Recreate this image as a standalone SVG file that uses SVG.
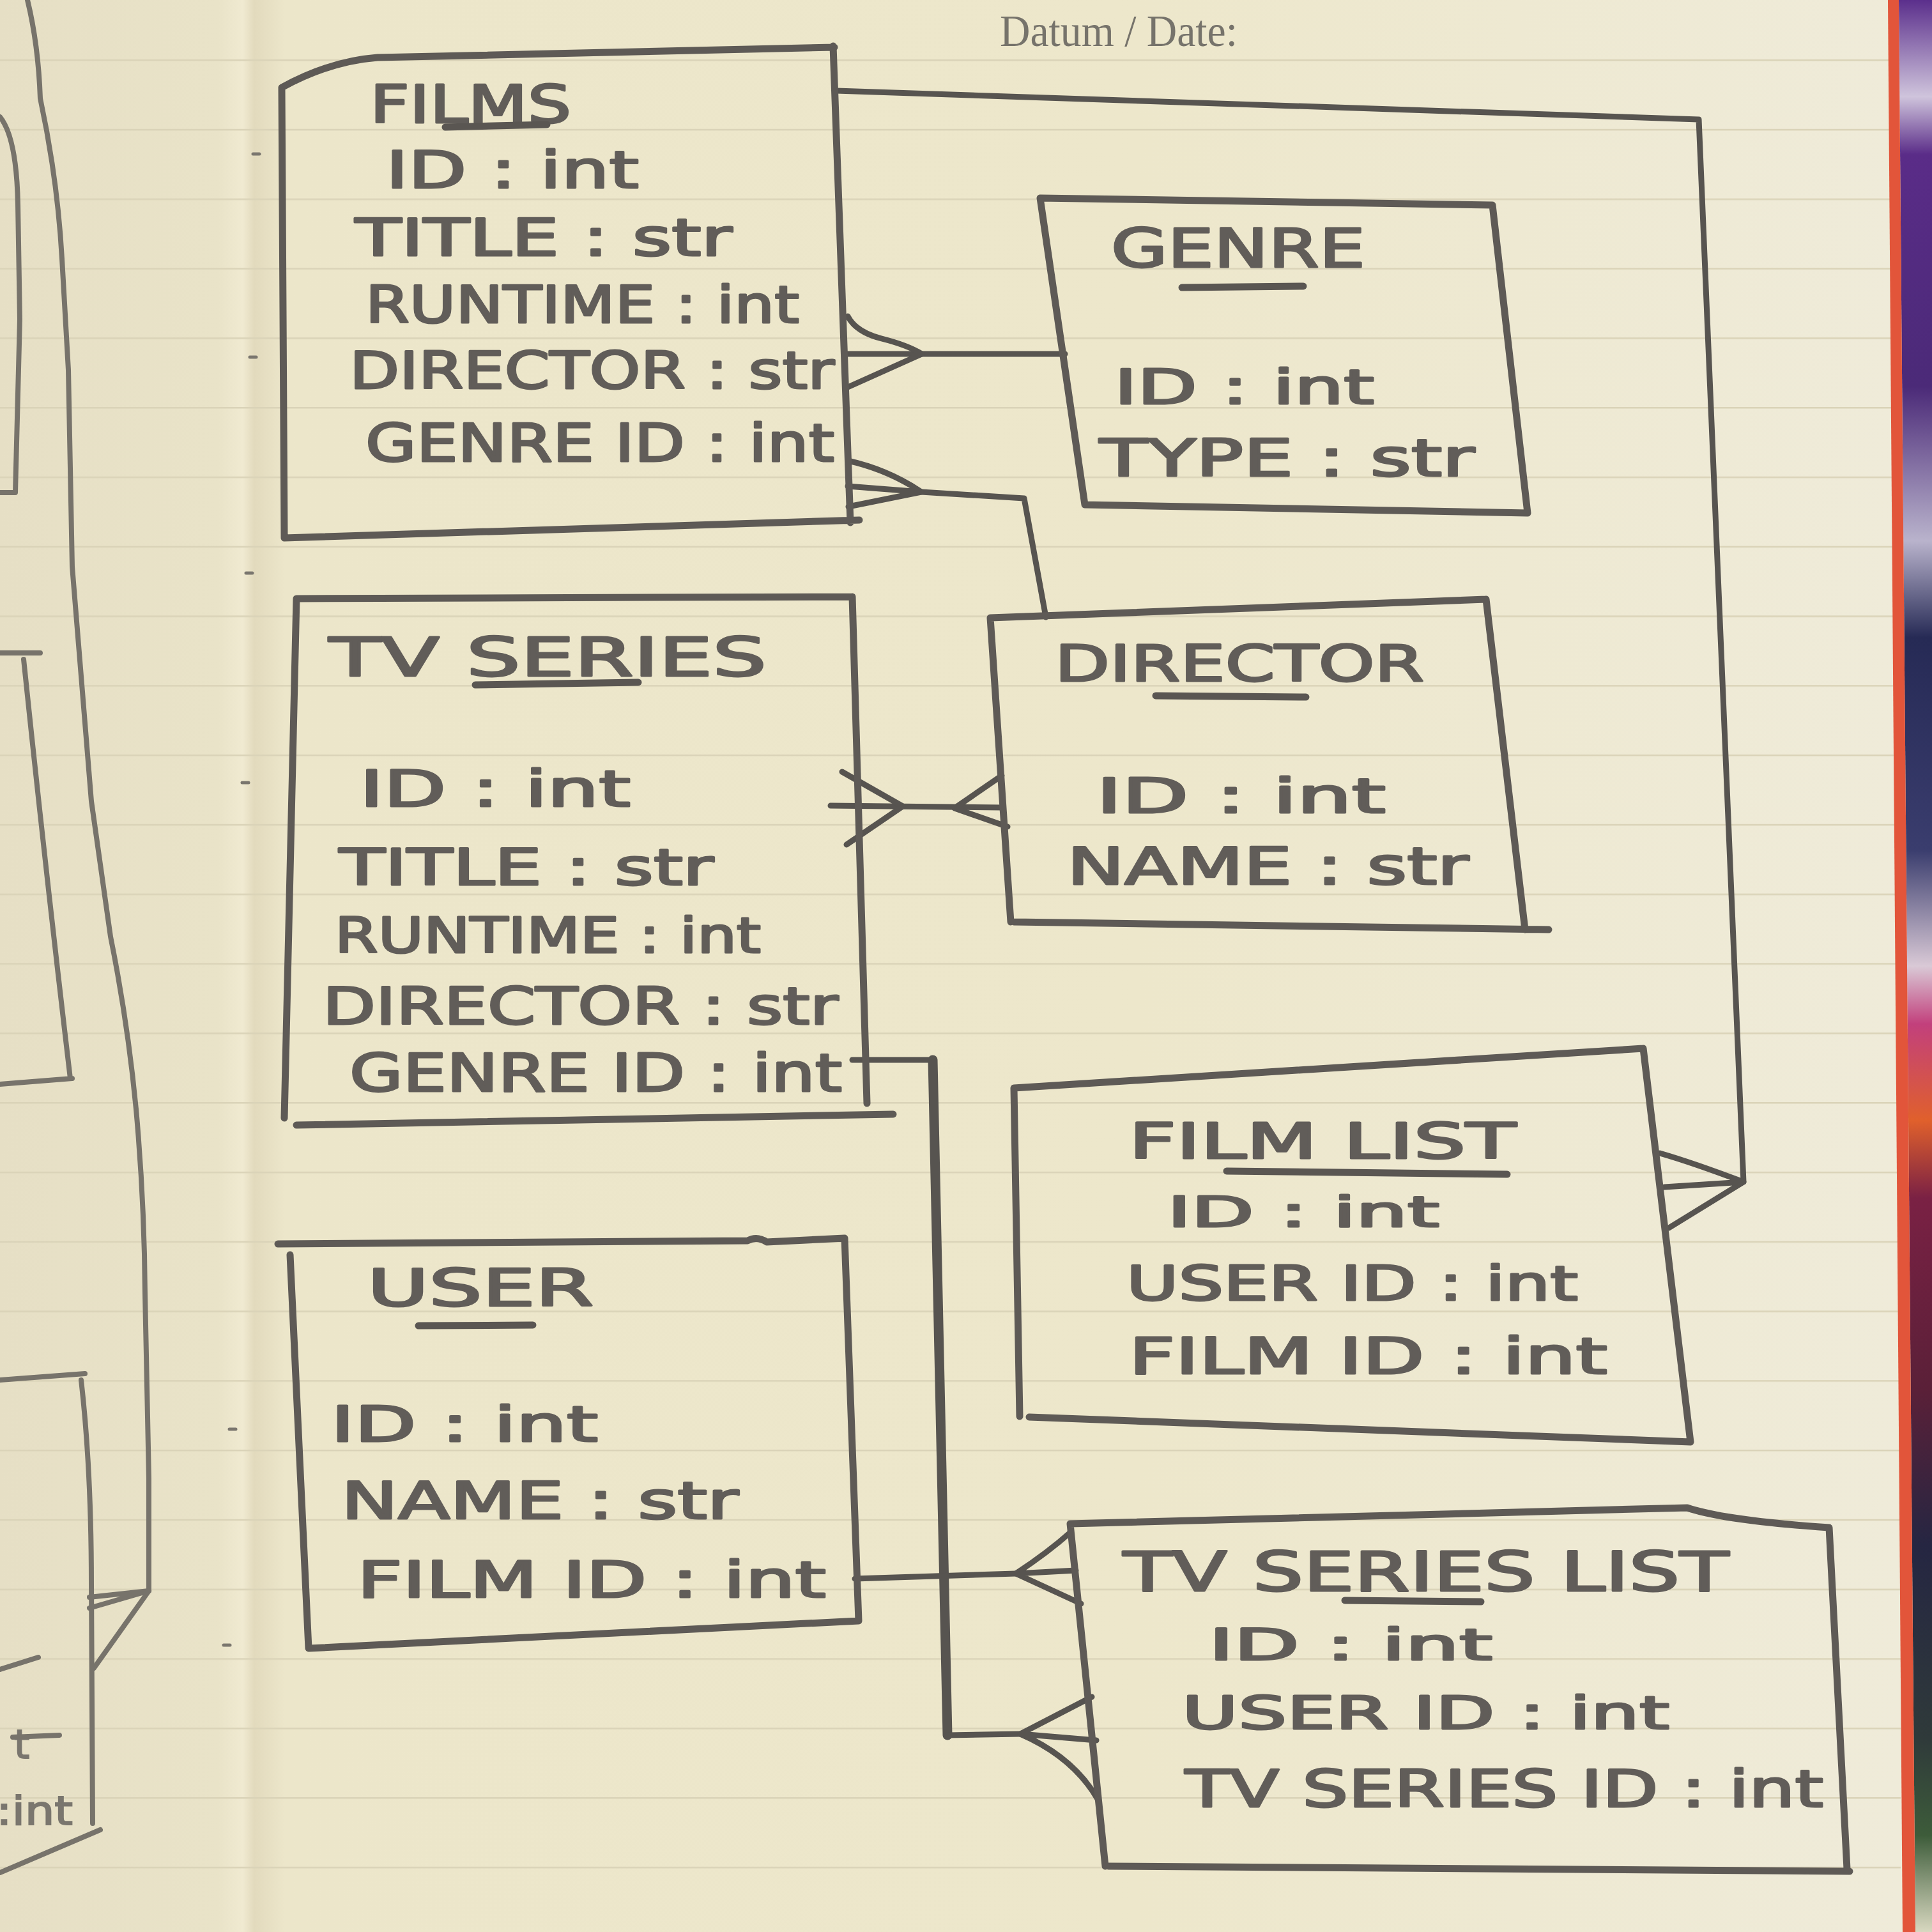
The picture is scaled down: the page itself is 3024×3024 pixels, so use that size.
<svg xmlns="http://www.w3.org/2000/svg" width="3024" height="3024" viewBox="0 0 3024 3024">
<defs>
<linearGradient id="paper" gradientUnits="userSpaceOnUse" x1="0" y1="0" x2="2970" y2="0">
<stop offset="0" stop-color="#e6dfc5"/>
<stop offset="0.115" stop-color="#e9e3c8"/>
<stop offset="0.128" stop-color="#f0ead1"/>
<stop offset="0.134" stop-color="#e2dabd"/>
<stop offset="0.15" stop-color="#ece6ca"/>
<stop offset="0.6" stop-color="#ede7cb"/>
<stop offset="1" stop-color="#efebd9"/>
</linearGradient>
<pattern id="rules" patternUnits="userSpaceOnUse" x="0" y="93" width="3024" height="108.8">
<line x1="0" y1="1" x2="3024" y2="1" stroke="#dad3b8" stroke-width="3"/>
</pattern>
<linearGradient id="fabric" x1="0" y1="0" x2="0" y2="1">
<stop offset="0" stop-color="#5b2f8c"/>
<stop offset="0.05" stop-color="#cfc4dc"/>
<stop offset="0.08" stop-color="#5a2c88"/>
<stop offset="0.2" stop-color="#4b2a78"/>
<stop offset="0.28" stop-color="#b9b3cc"/>
<stop offset="0.33" stop-color="#262a55"/>
<stop offset="0.44" stop-color="#3a3d6e"/>
<stop offset="0.5" stop-color="#d9c9d6"/>
<stop offset="0.53" stop-color="#c2407c"/>
<stop offset="0.58" stop-color="#e0602c"/>
<stop offset="0.62" stop-color="#7a2144"/>
<stop offset="0.72" stop-color="#5a2038"/>
<stop offset="0.8" stop-color="#252642"/>
<stop offset="0.9" stop-color="#2f3a3a"/>
<stop offset="0.95" stop-color="#3d5c3a"/>
<stop offset="1" stop-color="#d8d8c0"/>
</linearGradient>
<style>
.box{fill:none;stroke:#5e5a56;stroke-width:11;stroke-linecap:round;stroke-linejoin:round}
.conn{fill:none;stroke:#575450;stroke-width:9;stroke-linecap:round;stroke-linejoin:round}
.thick{stroke-width:15}
.ul{stroke:#5a5652;stroke-width:11;stroke-linecap:round}
.t{font-family:"DejaVu Sans","Liberation Sans",sans-serif;font-weight:normal;fill:#615d59;stroke:#615d59;stroke-width:3;stroke-linejoin:round}
.lp{fill:none;stroke:#77736b;stroke-width:8;stroke-linecap:round;stroke-linejoin:round}
.lt{font-family:"DejaVu Sans","Liberation Sans",sans-serif;fill:#7a766e;stroke:#7a766e;stroke-width:2}
.hdr{font-family:"Liberation Serif",serif;font-size:70px;fill:#76736b}
</style>
</defs>

<!-- paper and surroundings -->
<rect x="0" y="0" width="3024" height="3024" fill="url(#paper)"/>
<rect x="0" y="0" width="2975" height="3024" fill="url(#rules)"/>
<polygon points="2972,0 3024,0 3024,3024 2998,3024" fill="url(#fabric)"/>
<polygon points="2955,0 2972,0 2998,3024 2978,3024" fill="#e2553a"/>

<!-- gutter marks -->
<g stroke="#7a766e" stroke-width="5" stroke-linecap="round">
<line x1="396" y1="241" x2="406" y2="241"/>
<line x1="391" y1="559" x2="401" y2="559"/>
<line x1="385" y1="897" x2="395" y2="897"/>
<line x1="379" y1="1225" x2="389" y2="1225"/>
<line x1="359" y1="2237" x2="369" y2="2237"/>
<line x1="350" y1="2575" x2="360" y2="2575"/>
</g>

<!-- previous page (partial) -->
<g id="left-page">
<path class="lp" d="M0,183 Q26,215 28,320 L31,500 L24,771 L0,771"/>
<path class="lp" d="M43,0 Q60,70 63,154 Q90,280 97,405 L107,579 Q110,740 113,887 Q128,1080 143,1254 L173,1466 Q200,1600 213,1736 Q226,1880 227,2025 L233,2314 L233,2490"/>
<path class="lp" d="M233,2490 L140,2500 M233,2490 L140,2517 M233,2490 L147,2611"/>
<path class="lp" d="M0,1022 L63,1022 M37,1032 Q70,1350 110,1688 M0,1697 L113,1688"/>
<path class="lp" d="M0,2160 L133,2150 M127,2160 Q143,2300 143,2480 L145,2854 M0,2931 L157,2864 M0,2613 L60,2594"/>
<text class="lt" x="22" y="2752" font-size="62">t</text>
<line class="lp" x1="20" y1="2719" x2="93" y2="2716"/>
<text class="lt" x="-6" y="2856" font-size="62" textLength="120" lengthAdjust="spacingAndGlyphs">:int</text>
</g>

<!-- header -->
<text class="hdr" x="1565" y="72" textLength="372" lengthAdjust="spacingAndGlyphs">Datum / Date:</text>

<!-- connectors -->
<g id="connectors">
<!-- FILMS -> FILM LIST -->
<path class="conn" d="M1309,142 L2659,187 L2729,1850"/>
<path class="conn" d="M2729,1850 Q2650,1820 2598,1805 M2729,1850 L2605,1858 M2729,1850 L2612,1922"/>
<!-- FILMS -> GENRE -->
<path class="conn" d="M1327,554 L1667,554"/>
<path class="conn" d="M1327,495 Q1340,520 1380,530 Q1420,540 1443,554 M1443,554 L1327,606"/>
<!-- FILMS -> DIRECTOR -->
<path class="conn" d="M1442,770 L1603,780 L1637,966"/>
<path class="conn" d="M1327,721 Q1390,735 1442,770 M1327,761 L1442,770 M1328,793 L1442,770"/>
<!-- TV SERIES <-> DIRECTOR -->
<path class="conn" d="M1300,1261 L1570,1264"/>
<path class="conn" d="M1318,1208 L1413,1262 L1325,1322"/>
<path class="conn" d="M1568,1214 L1494,1265 L1577,1294"/>
<!-- TV SERIES -> TV SERIES LIST -->
<path class="conn" d="M1334,1659 L1460,1659"/>
<path class="conn thick" d="M1460,1659 L1483,2716"/>
<path class="conn" d="M1483,2716 L1597,2714"/>
<path class="conn" d="M1597,2714 L1709,2656 M1597,2714 L1716,2724 M1597,2714 Q1680,2750 1718,2816"/>
<!-- USER -> TV SERIES LIST -->
<path class="conn" d="M1338,2471 L1590,2463"/>
<path class="conn" d="M1590,2463 Q1640,2430 1676,2398 M1590,2463 L1684,2458 M1590,2463 L1692,2510"/>
</g>

<!-- FILMS -->
<g id="films">
<path class="box" d="M441,137 Q515,96 591,90 L1306,74 M1304,72 L1331,818 M445,842 L1345,814 M441,137 L445,842"/>
<text class="t" x="579" y="192" font-size="82" textLength="315" lengthAdjust="spacingAndGlyphs">FILMS</text>
<line class="ul" x1="697" y1="199" x2="856" y2="195"/>
<text class="t" x="604" y="294" font-size="80" textLength="396" lengthAdjust="spacingAndGlyphs">ID : int</text>
<text class="t" x="556" y="400" font-size="80" textLength="590" lengthAdjust="spacingAndGlyphs">TITLE : str</text>
<text class="t" x="572" y="505" font-size="80" textLength="679" lengthAdjust="spacingAndGlyphs">RUNTIME : int</text>
<text class="t" x="547" y="608" font-size="80" textLength="759" lengthAdjust="spacingAndGlyphs">DIRECTOR : str</text>
<text class="t" x="572" y="722" font-size="82" textLength="734" lengthAdjust="spacingAndGlyphs">GENRE ID : int</text>
</g>

<!-- GENRE -->
<g id="genre">
<path class="box" d="M1628,310 L2336,321 M2336,321 L2391,803 M1698,790 L2391,803 M1628,310 L1698,790"/>
<text class="t" x="1739" y="418" font-size="84" textLength="398" lengthAdjust="spacingAndGlyphs">GENRE</text>
<line class="ul" x1="1850" y1="450" x2="2040" y2="448"/>
<text class="t" x="1744" y="632" font-size="74" textLength="407" lengthAdjust="spacingAndGlyphs">ID : int</text>
<text class="t" x="1721" y="745" font-size="80" textLength="587" lengthAdjust="spacingAndGlyphs">TYPE : str</text>
</g>

<!-- TV SERIES -->
<g id="tv-series">
<path class="box" d="M464,937 L1334,934 M1334,934 L1357,1727 M464,1761 L1398,1744 M464,937 L445,1750"/>
<text class="t" x="515" y="1058" font-size="84" textLength="685" lengthAdjust="spacingAndGlyphs">TV SERIES</text>
<line class="ul" x1="744" y1="1072" x2="999" y2="1068"/>
<text class="t" x="563" y="1262" font-size="78" textLength="424" lengthAdjust="spacingAndGlyphs">ID : int</text>
<text class="t" x="531" y="1385" font-size="78" textLength="586" lengthAdjust="spacingAndGlyphs">TITLE : str</text>
<text class="t" x="524" y="1491" font-size="76" textLength="667" lengthAdjust="spacingAndGlyphs">RUNTIME : int</text>
<text class="t" x="505" y="1603" font-size="80" textLength="807" lengthAdjust="spacingAndGlyphs">DIRECTOR : str</text>
<text class="t" x="547" y="1708" font-size="82" textLength="771" lengthAdjust="spacingAndGlyphs">GENRE ID : int</text>
</g>

<!-- DIRECTOR -->
<g id="director">
<path class="box" d="M1550,967 L2326,938 M2326,938 L2387,1455 M1587,1443 L2424,1455 M1550,967 L1582,1443"/>
<text class="t" x="1651" y="1066" font-size="78" textLength="578" lengthAdjust="spacingAndGlyphs">DIRECTOR</text>
<line class="ul" x1="1809" y1="1089" x2="2044" y2="1091"/>
<text class="t" x="1716" y="1272" font-size="74" textLength="453" lengthAdjust="spacingAndGlyphs">ID : int</text>
<text class="t" x="1670" y="1384" font-size="80" textLength="629" lengthAdjust="spacingAndGlyphs">NAME : str</text>
</g>

<!-- FILM LIST -->
<g id="film-list">
<path class="box" d="M1587,1703 L2572,1641 M2572,1641 L2646,2257 M1611,2218 L2646,2257 M1587,1703 L1596,2217"/>
<text class="t" x="1767" y="1813" font-size="76" textLength="606" lengthAdjust="spacingAndGlyphs">FILM LIST</text>
<line class="ul" x1="1920" y1="1833" x2="2359" y2="1838"/>
<text class="t" x="1827" y="1920" font-size="66" textLength="426" lengthAdjust="spacingAndGlyphs">ID : int</text>
<text class="t" x="1763" y="2035" font-size="74" textLength="707" lengthAdjust="spacingAndGlyphs">USER ID : int</text>
<text class="t" x="1767" y="2150" font-size="78" textLength="749" lengthAdjust="spacingAndGlyphs">FILM ID : int</text>
</g>

<!-- USER -->
<g id="user">
<path class="box" d="M435,1947 L1170,1942 Q1185,1934 1200,1944 L1322,1938 M1322,1938 L1344,2537 M483,2580 L1344,2537 M454,1964 L483,2580"/>
<text class="t" x="575" y="2044" font-size="80" textLength="354" lengthAdjust="spacingAndGlyphs">USER</text>
<line class="ul" x1="655" y1="2075" x2="834" y2="2074"/>
<text class="t" x="518" y="2256" font-size="76" textLength="418" lengthAdjust="spacingAndGlyphs">ID : int</text>
<text class="t" x="534" y="2377" font-size="80" textLength="622" lengthAdjust="spacingAndGlyphs">NAME : str</text>
<text class="t" x="559" y="2500" font-size="78" textLength="734" lengthAdjust="spacingAndGlyphs">FILM ID : int</text>
</g>

<!-- TV SERIES LIST -->
<g id="tv-series-list">
<path class="box" d="M1675,2385 L2641,2360 Q2700,2380 2863,2391 M2863,2391 L2891,2925 M1735,2921 L2895,2929 M1675,2385 L1730,2921"/>
<text class="t" x="1758" y="2490" font-size="86" textLength="948" lengthAdjust="spacingAndGlyphs">TV SERIES LIST</text>
<line class="ul" x1="2105" y1="2505" x2="2318" y2="2507"/>
<text class="t" x="1892" y="2598" font-size="68" textLength="444" lengthAdjust="spacingAndGlyphs">ID : int</text>
<text class="t" x="1850" y="2706" font-size="72" textLength="763" lengthAdjust="spacingAndGlyphs">USER ID : int</text>
<text class="t" x="1855" y="2828" font-size="80" textLength="999" lengthAdjust="spacingAndGlyphs">TV SERIES ID : int</text>
</g>
</svg>
